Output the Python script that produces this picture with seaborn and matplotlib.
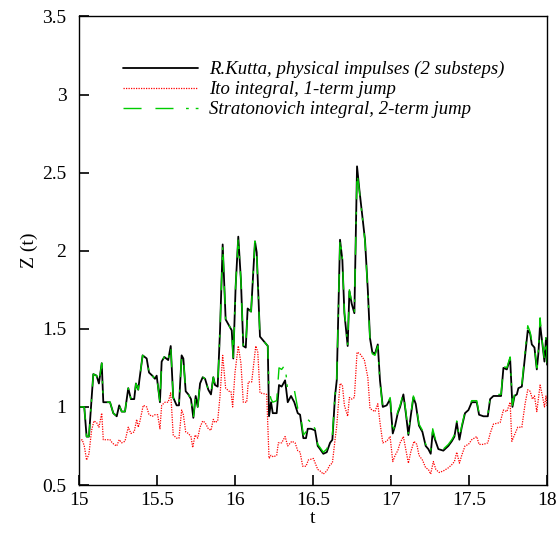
import matplotlib
matplotlib.use('Agg')
import matplotlib.pyplot as plt
import seaborn as sns
import pandas as pd

# R.Kutta (black) and Stratonovich (green) share the same time points
t_rk = [15.000, 15.034, 15.049, 15.064, 15.092, 15.113, 15.128, 15.146, 15.156, 15.199,
        15.220, 15.242, 15.258, 15.274, 15.295, 15.316, 15.333, 15.354, 15.365, 15.380,
        15.387, 15.408, 15.434, 15.449, 15.470, 15.487, 15.498, 15.519, 15.530, 15.547,
        15.572, 15.588, 15.604, 15.626, 15.641, 15.658, 15.669, 15.684, 15.701, 15.718,
        15.733, 15.748, 15.761, 15.776, 15.793, 15.808, 15.829, 15.846, 15.861, 15.872,
        15.889, 15.904, 15.921, 15.940, 15.962, 15.979, 15.989, 16.004, 16.021, 16.038,
        16.053, 16.069, 16.081, 16.103, 16.128, 16.139, 16.160, 16.210, 16.218, 16.231,
        16.242, 16.267, 16.282, 16.299, 16.321, 16.338, 16.359, 16.380, 16.402, 16.417,
        16.438, 16.455, 16.466, 16.487, 16.513, 16.530, 16.545, 16.566, 16.588, 16.609,
        16.624, 16.641, 16.652, 16.673, 16.688, 16.701, 16.722, 16.733, 16.748, 16.765,
        16.782, 16.797, 16.833, 16.851, 16.865, 16.880, 16.897, 16.915, 16.929, 16.947,
        16.972, 16.994, 17.011, 17.026, 17.043, 17.058, 17.079, 17.096, 17.111, 17.126,
        17.143, 17.158, 17.179, 17.201, 17.222, 17.239, 17.254, 17.267, 17.282, 17.303,
        17.335, 17.367, 17.389, 17.406, 17.421, 17.438, 17.453, 17.474, 17.496, 17.517,
        17.549, 17.564, 17.592, 17.620, 17.635, 17.656, 17.705, 17.720, 17.742, 17.763,
        17.778, 17.791, 17.806, 17.816, 17.838, 17.859, 17.876, 17.891, 17.902, 17.919,
        17.934, 17.944, 17.955, 17.970, 17.983, 17.993, 18.000]

z_rk = [1.00, 1.00, 0.81, 0.81, 1.21, 1.20, 1.15, 1.28, 1.03, 1.03,
        0.96, 0.94, 1.01, 0.97, 0.97, 1.12, 1.05, 1.05, 1.15, 1.11,
        1.17, 1.33, 1.31, 1.22, 1.20, 1.18, 1.20, 1.03, 1.29, 1.32,
        1.30, 1.39, 1.06, 1.01, 1.01, 1.33, 1.31, 1.10, 1.08, 1.05,
        0.93, 1.07, 1.00, 1.15, 1.19, 1.18, 1.11, 1.08, 1.19, 1.14,
        1.13, 1.49, 2.04, 1.56, 1.52, 1.49, 1.31, 1.77, 2.09, 1.81,
        1.39, 1.38, 1.63, 1.61, 2.06, 1.99, 1.45, 1.39, 0.94, 1.03,
        0.96, 0.96, 1.14, 1.13, 1.17, 1.03, 1.07, 1.03, 0.96, 0.95,
        0.80, 0.80, 0.86, 0.86, 0.85, 0.75, 0.73, 0.70, 0.71, 0.77,
        0.79, 1.07, 1.17, 2.07, 1.94, 1.60, 1.39, 1.74, 1.66, 1.60,
        2.54, 2.39, 2.07, 1.75, 1.44, 1.35, 1.34, 1.40, 1.17, 1.00,
        1.01, 1.05, 0.83, 0.88, 0.96, 1.00, 1.08, 0.95, 0.82, 0.94,
        1.06, 1.02, 0.88, 0.84, 0.75, 0.73, 0.70, 0.84, 0.79, 0.73,
        0.72, 0.75, 0.78, 0.81, 0.90, 0.79, 0.87, 0.96, 0.98, 1.03,
        1.03, 0.95, 0.94, 0.94, 1.05, 1.07, 1.07, 1.25, 1.24, 1.31,
        1.00, 1.07, 1.08, 1.12, 1.13, 1.33, 1.49, 1.47, 1.40, 1.38,
        1.24, 1.34, 1.53, 1.40, 1.29, 1.44, 1.27]

z_strat = [1.00, 1.00, 0.81, 0.81, 1.21, 1.20, 1.15, 1.28, 1.03, 1.03,
           0.96, 0.94, 1.01, 0.97, 0.97, 1.12, 1.05, 1.05, 1.15, 1.11,
           1.17, 1.33, 1.31, 1.22, 1.20, 1.18, 1.20, 1.03, 1.29, 1.32,
           1.30, 1.39, 1.06, 1.01, 1.01, 1.33, 1.31, 1.10, 1.08, 1.05,
           0.93, 1.07, 1.00, 1.15, 1.19, 1.18, 1.11, 1.08, 1.19, 1.14,
           1.13, 1.49, 2.04, 1.56, 1.52, 1.49, 1.31, 1.77, 2.09, 1.81,
           1.39, 1.38, 1.63, 1.61, 2.06, 1.99, 1.45, 1.39, 1.10, 1.05,
           1.03, 1.04, 1.25, 1.24, 1.27, 1.10, 1.11, 1.11, 0.99, 0.97,
           0.82, 0.84, 0.92, 0.90, 0.86, 0.76, 0.74, 0.71, 0.73, 0.80,
           0.82, 1.08, 1.18, 2.08, 1.95, 1.61, 1.40, 1.75, 1.67, 1.61,
           2.50, 2.38, 2.06, 1.74, 1.43, 1.34, 1.33, 1.39, 1.16, 0.99,
           1.01, 1.06, 0.84, 0.89, 0.97, 1.01, 1.09, 0.96, 0.83, 0.95,
           1.07, 1.03, 0.89, 0.85, 0.76, 0.74, 0.72, 0.86, 0.80, 0.74,
           0.73, 0.76, 0.79, 0.82, 0.91, 0.80, 0.88, 0.97, 0.99, 1.04,
           1.04, 0.96, 0.95, 0.95, 1.06, 1.08, 1.08, 1.26, 1.25, 1.32,
           1.01, 1.08, 1.09, 1.13, 1.14, 1.36, 1.52, 1.48, 1.42, 1.39,
           1.25, 1.36, 1.57, 1.41, 1.30, 1.46, 1.28]

# Ito integral (red)
t_ito = [15.000, 15.021, 15.034, 15.049, 15.064, 15.081, 15.096, 15.113, 15.128, 15.146,
         15.156, 15.199, 15.205, 15.224, 15.242, 15.258, 15.274, 15.295, 15.316, 15.333,
         15.354, 15.370, 15.380, 15.391, 15.412, 15.434, 15.449, 15.470, 15.487, 15.504,
         15.519, 15.530, 15.551, 15.572, 15.588, 15.604, 15.626, 15.641, 15.658, 15.669,
         15.684, 15.701, 15.718, 15.729, 15.744, 15.761, 15.776, 15.793, 15.808, 15.829,
         15.846, 15.861, 15.872, 15.889, 15.904, 15.921, 15.940, 15.962, 15.974, 15.985,
         16.000, 16.021, 16.038, 16.053, 16.075, 16.085, 16.107, 16.133, 16.146, 16.160,
         16.203, 16.218, 16.231, 16.246, 16.267, 16.278, 16.299, 16.321, 16.338, 16.364,
         16.385, 16.402, 16.417, 16.434, 16.455, 16.470, 16.502, 16.530, 16.545, 16.566,
         16.588, 16.609, 16.624, 16.641, 16.652, 16.673, 16.688, 16.701, 16.722, 16.733,
         16.748, 16.765, 16.782, 16.801, 16.829, 16.851, 16.865, 16.880, 16.897, 16.915,
         16.929, 16.947, 16.972, 16.994, 17.011, 17.026, 17.043, 17.058, 17.079, 17.096,
         17.111, 17.126, 17.147, 17.165, 17.179, 17.201, 17.222, 17.239, 17.254, 17.271,
         17.287, 17.308, 17.335, 17.367, 17.389, 17.406, 17.421, 17.438, 17.453, 17.474,
         17.496, 17.517, 17.549, 17.564, 17.592, 17.620, 17.635, 17.656, 17.699, 17.720,
         17.742, 17.763, 17.774, 17.791, 17.812, 17.838, 17.859, 17.876, 17.891, 17.906,
         17.919, 17.934, 17.944, 17.955, 17.970, 17.983, 17.993, 18.000]

z_ito = [0.78, 0.79, 0.75, 0.66, 0.70, 0.85, 0.91, 0.90, 0.87, 0.96,
         0.79, 0.79, 0.78, 0.76, 0.75, 0.79, 0.77, 0.78, 0.87, 0.83,
         0.84, 0.92, 0.87, 0.91, 1.01, 1.00, 0.95, 0.94, 0.95, 0.95,
         0.86, 1.01, 1.03, 1.03, 1.09, 0.82, 0.80, 0.80, 0.98, 0.95,
         0.84, 0.83, 0.81, 0.74, 0.82, 0.80, 0.87, 0.91, 0.90, 0.86,
         0.85, 0.92, 0.90, 0.91, 1.07, 1.33, 1.12, 1.10, 1.10, 1.00,
         1.22, 1.39, 1.28, 1.03, 1.03, 1.16, 1.16, 1.39, 1.35, 1.09,
         1.08, 0.67, 0.69, 0.68, 0.69, 0.77, 0.77, 0.81, 0.75, 0.78,
         0.77, 0.72, 0.71, 0.62, 0.62, 0.66, 0.67, 0.60, 0.59, 0.57,
         0.59, 0.63, 0.64, 0.79, 0.88, 1.15, 1.14, 1.01, 0.94, 1.06,
         1.05, 1.06, 1.35, 1.34, 1.30, 1.19, 0.99, 0.98, 0.97, 1.02,
         0.90, 0.77, 0.78, 0.81, 0.65, 0.69, 0.72, 0.77, 0.81, 0.72,
         0.64, 0.71, 0.78, 0.76, 0.69, 0.66, 0.61, 0.60, 0.57, 0.65,
         0.60, 0.58, 0.59, 0.61, 0.63, 0.65, 0.71, 0.64, 0.69, 0.75,
         0.76, 0.79, 0.81, 0.76, 0.76, 0.77, 0.83, 0.89, 0.90, 0.98,
         0.97, 1.03, 0.78, 0.82, 0.87, 0.87, 1.02, 1.11, 1.10, 1.05,
         1.07, 0.97, 1.05, 1.14, 1.07, 1.00, 1.07, 1.00]

labels = ['R.Kutta, physical impulses (2 substeps)',
          'Ito integral, 1-term jump',
          'Stratonovich integral, 2-term jump']

x_ticks = [15, 15.5, 16, 16.5, 17, 17.5, 18]
x_tick_labels = ['15', '15.5', '16', '16.5', '17', '17.5', '18']
y_ticks = [0.5, 1, 1.5, 2, 2.5, 3, 3.5]
y_tick_labels = ['0.5', '1', '1.5', '2', '2.5', '3', '3.5']

sns.set_theme(style='ticks')
plt.rcParams['font.family'] = ['Liberation Serif', 'DejaVu Serif']
plt.rcParams['text.color'] = 'black'
plt.rcParams['axes.labelcolor'] = 'black'

df_rk = pd.DataFrame({'t': t_rk, 'z': z_rk})
df_st = pd.DataFrame({'t': t_rk, 'z': z_strat})
df_ito = pd.DataFrame({'t': t_ito, 'z': z_ito})

fig = plt.figure(figsize=(5.56, 5.38), dpi=100)
ax = fig.add_axes([0.142, 0.0985, 0.842, 0.871])

sns.lineplot(data=df_rk, x='t', y='z', ax=ax, color='black', lw=1.3,
             estimator=None, sort=False, label=labels[0])
sns.lineplot(data=df_ito, x='t', y='z', ax=ax, color='#ff0000', lw=0.9,
             linestyle=(0, (1, 1)), estimator=None, sort=False, label=labels[1])
sns.lineplot(data=df_st, x='t', y='z', ax=ax, color='#00cc00', lw=1.0,
             linestyle=(0, (13, 10, 13, 9, 2, 5, 2, 9)), estimator=None, sort=False,
             label=labels[2])

ax.set_xlim(15, 18)
ax.set_ylim(0.5, 3.5)
ax.set_xticks(x_ticks)
ax.set_xticklabels(x_tick_labels)
ax.set_yticks(y_ticks)
ax.set_yticklabels(y_tick_labels)
ax.tick_params(axis='x', direction='in', length=7, width=1.2, colors='black',
               labelsize=14, pad=5)
ax.tick_params(axis='y', direction='in', length=7, width=1.2, colors='black',
               labelsize=14, pad=9)
for s in ax.spines.values():
    s.set_visible(True)
    s.set_linewidth(1.0)
    s.set_color('black')
ax.set_xlabel('t', fontsize=14, labelpad=1)
ax.set_ylabel('Z (t)', fontsize=14, labelpad=3)

leg = ax.legend(loc='upper left', bbox_to_anchor=(0.095, 0.905), frameon=False,
                prop={'style': 'italic', 'size': 13.5}, handlelength=4.0,
                handletextpad=0.55, labelspacing=0.16, borderpad=0, borderaxespad=0)
for txt in leg.get_texts():
    txt.set_color('black')

# make sure the inward tick marks are drawn on the left and bottom axes
fig.canvas.draw()
for tk in ax.xaxis.get_major_ticks() + ax.yaxis.get_major_ticks():
    tk.tick1line.set_visible(True)
    tk.tick1line.set_markersize(7)
    tk.tick1line.set_markeredgewidth(1.2)
    tk.tick1line.set_markeredgecolor('black')
    tk.tick1line.set_zorder(5)
    tk.tick2line.set_visible(False)

fig.savefig('out.png', dpi=100)
